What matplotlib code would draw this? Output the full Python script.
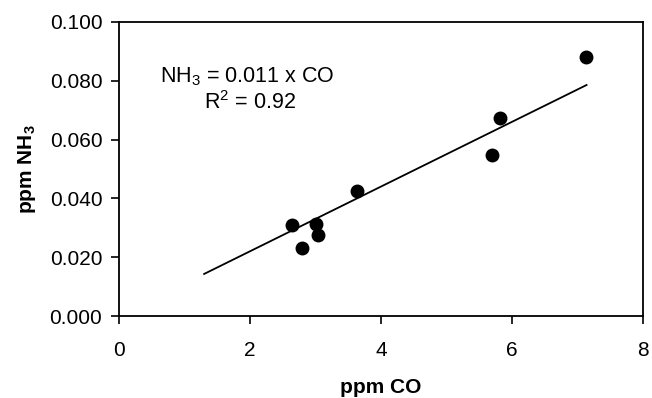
import matplotlib
matplotlib.use('Agg')
import matplotlib.pyplot as plt
import numpy as np

plt.rcParams['font.family'] = ['Liberation Sans', 'DejaVu Sans']
plt.rcParams['mathtext.fontset'] = 'custom'
plt.rcParams['mathtext.rm'] = 'Liberation Sans'
plt.rcParams['mathtext.bf'] = 'Liberation Sans:bold'

# measured points
co = [2.64, 2.79, 3.01, 3.04, 3.64, 5.69, 5.82, 7.13]
nh3 = [0.0310, 0.0231, 0.0313, 0.0276, 0.0425, 0.0548, 0.0674, 0.0882]

slope = 0.011
fit_x = [1.30, 7.14]

fs = 15

fig = plt.figure(figsize=(6.52, 3.98), dpi=100)
ax = fig.add_axes([0.1825, 0.206, 0.8035, 0.739])

ax.plot(co, nh3, 'o', color='black', markersize=9)
ax.plot(fit_x, [slope * v for v in fit_x], color='black', lw=1.3)

ax.set_xlim(0, 8)
ax.set_ylim(0, 0.1)
ax.set_xticks([0, 2, 4, 6, 8])
yt = np.arange(0, 0.101, 0.02)
ax.set_yticks(yt)
ax.set_yticklabels(['%.3f' % v for v in yt])
ax.tick_params(direction='out', length=6, width=1.2, labelsize=fs, pad=6)
ax.tick_params(axis='x', pad=12)
for s in ax.spines.values():
    s.set_linewidth(1.3)

ax.set_xlabel('ppm CO', fontsize=fs, fontweight='bold', labelpad=13)
ax.set_ylabel(r'ppm NH$_\mathbf{3}$', fontsize=fs, fontweight='bold', labelpad=8)

ax.text(0.63, 0.0815, r'NH$_3$ = 0.011 x CO', fontsize=fs + 0.5, va='center', ha='left')
ax.text(1.30, 0.0725, r'R$^2$ = 0.92', fontsize=fs + 0.5, va='center', ha='left')

fig.savefig('out.png', dpi=100)
